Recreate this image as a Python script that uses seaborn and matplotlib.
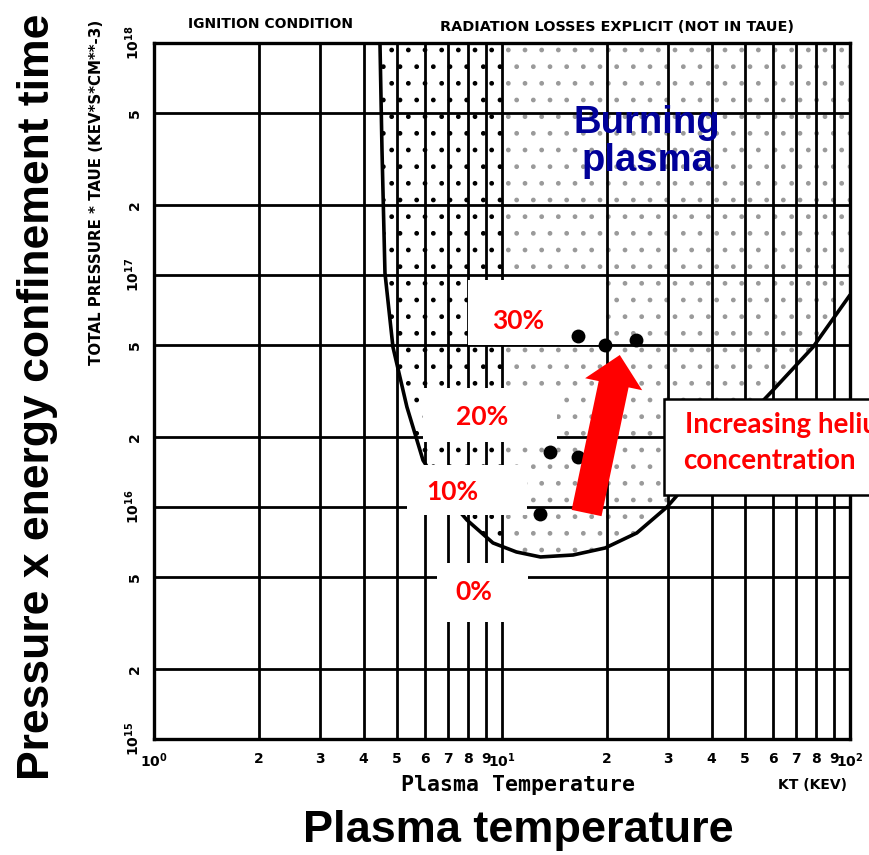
import matplotlib
matplotlib.use("Agg")
import matplotlib.pyplot as plt
from matplotlib.patches import Rectangle, FancyArrowPatch
import seaborn as sns

# Ignition boundary: plasma temperature (keV) vs total pressure * tau_E (keV s cm^-3)
ignition_T = [4.46, 4.52, 4.61, 4.86, 5.33, 5.93, 6.86, 7.93, 9.42, 11.0, 12.9,
              16.0, 19.8, 24.4, 29.8, 42.3, 60.1, 78.3, 100.0]
ignition_P = [1.0e18, 3.46e17, 1.02e17, 4.89e16, 2.70e16, 1.59e16, 1.13e16,
              8.79e15, 7.0e15, 6.4e15, 6.09e15, 6.21e15, 6.66e15, 7.73e15,
              1.0e16, 1.83e16, 3.19e16, 4.89e16, 8.2e16]

# Operating points for different helium fractions
helium_T = [16.5, 19.8, 24.3, 13.7, 16.5, 12.9]
helium_P = [5.46e16, 4.99e16, 5.25e16, 1.73e16, 1.64e16, 9.33e15]
helium_frac = ["30%", "30%", "30%", "20%", "20%", "10%"]

fraction_labels = ["30%", "20%", "10%", "0%"]

x_ticks = [1, 2, 3, 4, 5, 6, 7, 8, 9, 10, 20, 30, 40, 50, 60, 70, 80, 90, 100]
x_tick_labels = [r"$\mathbf{10^0}$", "2", "3", "4", "5", "6", "7", "8", "9",
                 r"$\mathbf{10^1}$", "2", "3", "4", "5", "6", "7", "8", "9",
                 r"$\mathbf{10^2}$"]
y_ticks = [1e15, 2e15, 5e15, 1e16, 2e16, 5e16, 1e17, 2e17, 5e17, 1e18]
y_tick_labels = [r"$\mathbf{10^{15}}$", "2", "5", r"$\mathbf{10^{16}}$", "2", "5",
                 r"$\mathbf{10^{17}}$", "2", "5", r"$\mathbf{10^{18}}$"]

sns.set_style("white")
plt.rcParams.update({
    "font.family": ["DejaVu Sans"],
    "mathtext.default": "bf",
    "text.color": "black",
    "axes.labelcolor": "black",
    "xtick.color": "black",
    "ytick.color": "black",
})

W, H = 869, 855
fig = plt.figure(figsize=(W / 100, H / 100), dpi=100)


def fpos(px, py):
    """Pixel position (origin top-left) to figure fraction."""
    return px / W, 1 - py / H


ax = fig.add_axes([154 / W, 1 - 739 / H, 696 / W, 696 / H])
ax.set_xscale("log")
ax.set_yscale("log")
ax.set_xlim(1, 100)
ax.set_ylim(1e15, 1e18)

# stippled ignition region above the boundary
dense = ax.fill_between(ignition_T, ignition_P, 1e18, facecolor="none",
                        edgecolor="black", hatch=".", linewidth=0, zorder=1)
dense.set_clip_path(Rectangle((1, 1e15), 9, 1e18, transform=ax.transData))
sparse = ax.fill_between(ignition_T, ignition_P, 1e18, facecolor="none",
                         edgecolor="#9a9a9a", hatch=".", linewidth=0, zorder=1)
sparse.set_clip_path(Rectangle((10, 1e15), 90, 1e18, transform=ax.transData))

# grid of the log paper
ax.set_xticks(x_ticks)
ax.set_xticklabels(x_tick_labels)
ax.set_yticks(y_ticks)
ax.set_yticklabels(y_tick_labels, rotation=90, va="center")
ax.minorticks_off()
ax.grid(True, which="major", color="black", linewidth=2.0, zorder=2)
ax.set_axisbelow(False)
for s in ax.spines.values():
    s.set_linewidth(2.4)
    s.set_color("black")
ax.tick_params(direction="out", length=6, width=1.6, labelsize=10, pad=3)
for lab in ax.get_xticklabels() + ax.get_yticklabels():
    lab.set_fontweight("bold")

sns.lineplot(x=ignition_T, y=ignition_P, sort=False, estimator=None,
             color="black", linewidth=2.6, ax=ax, zorder=3)

# white label panels
panels = {"30%": (468, 280, 603, 345), "20%": (423, 388, 557, 442),
          "10%": (407, 465, 527, 515), "0%": (437, 563, 528, 622)}
for lab in fraction_labels:
    x0, y0, x1, y1 = panels[lab]
    fx0, fy1 = fpos(x0, y1)
    ax.add_patch(Rectangle((fx0, fy1), (x1 - x0) / W, (y1 - y0) / H,
                           transform=fig.transFigure, facecolor="white",
                           edgecolor="none", zorder=4))

sns.scatterplot(x=helium_T, y=helium_P, color="black", s=100, edgecolor="black",
                linewidth=0, ax=ax, zorder=5, legend=False)

ax.add_patch(FancyArrowPatch(
    posA=(17.5, 9.42e15), posB=(21.8, 4.52e16),
    arrowstyle="simple,head_length=21.5,head_width=42,tail_width=22",
    facecolor="red", edgecolor="none", linewidth=0,
    shrinkA=0, shrinkB=0, zorder=6))

# text on the chart
label_pos = {"30%": (518, 321), "20%": (482, 417), "10%": (452, 492), "0%": (474, 592)}
for lab in fraction_labels:
    fig.text(*fpos(*label_pos[lab]), lab, color="red", fontsize=19,
             fontweight="bold", family=["Lato", "DejaVu Sans"],
             ha="center", va="center", zorder=7)

fig.text(*fpos(647, 142), "Burning\nplasma", color="#000099", fontsize=27.5,
         fontweight="bold", family=["Liberation Sans", "DejaVu Sans"],
         ha="center", va="center", linespacing=1.08, zorder=7)

bx0, by1 = fpos(664, 495)
fig.add_artist(Rectangle((bx0, by1), 0.3, (495 - 399) / H,
                         transform=fig.transFigure, facecolor="white",
                         edgecolor="black", linewidth=1.8, zorder=5))
fig.text(*fpos(685, 425), "Increasing helium", color="red", fontsize=20,
         fontweight="bold", family=["Lato", "DejaVu Sans"],
         ha="left", va="center", zorder=7)
fig.text(*fpos(683, 461), "concentration", color="red", fontsize=20,
         fontweight="bold", family=["Lato", "DejaVu Sans"],
         ha="left", va="center", zorder=7)

# headings of the original log paper
fig.text(*fpos(270, 24), "IGNITION CONDITION", fontsize=10, fontweight="bold",
         ha="center", va="center")
fig.text(*fpos(617, 27), "RADIATION LOSSES EXPLICIT (NOT IN TAUE)", fontsize=10.4,
         fontweight="bold", ha="center", va="center")
fig.text(*fpos(97, 192), "TOTAL PRESSURE * TAUE (KEV*S*CM**-3)", fontsize=10.8,
         fontweight="bold", rotation=90, ha="center", va="center")
fig.text(*fpos(518, 785), "Plasma Temperature", fontsize=15.5, fontweight="bold",
         family=["DejaVu Sans Mono"], ha="center", va="center")
fig.text(*fpos(812, 785), "KT (KEV)", fontsize=10, fontweight="bold",
         ha="center", va="center")

# axis titles
fig.text(*fpos(518, 830), "Plasma temperature", fontsize=32.5, fontweight="bold",
         family=["Liberation Sans", "DejaVu Sans"], ha="center", va="center")
fig.text(*fpos(38, 397), "Pressure x energy confinement time", fontsize=32,
         fontweight="bold", family=["Liberation Sans", "DejaVu Sans"],
         rotation=90, ha="center", va="center")

fig.savefig("out.png", dpi=100, facecolor="white")
